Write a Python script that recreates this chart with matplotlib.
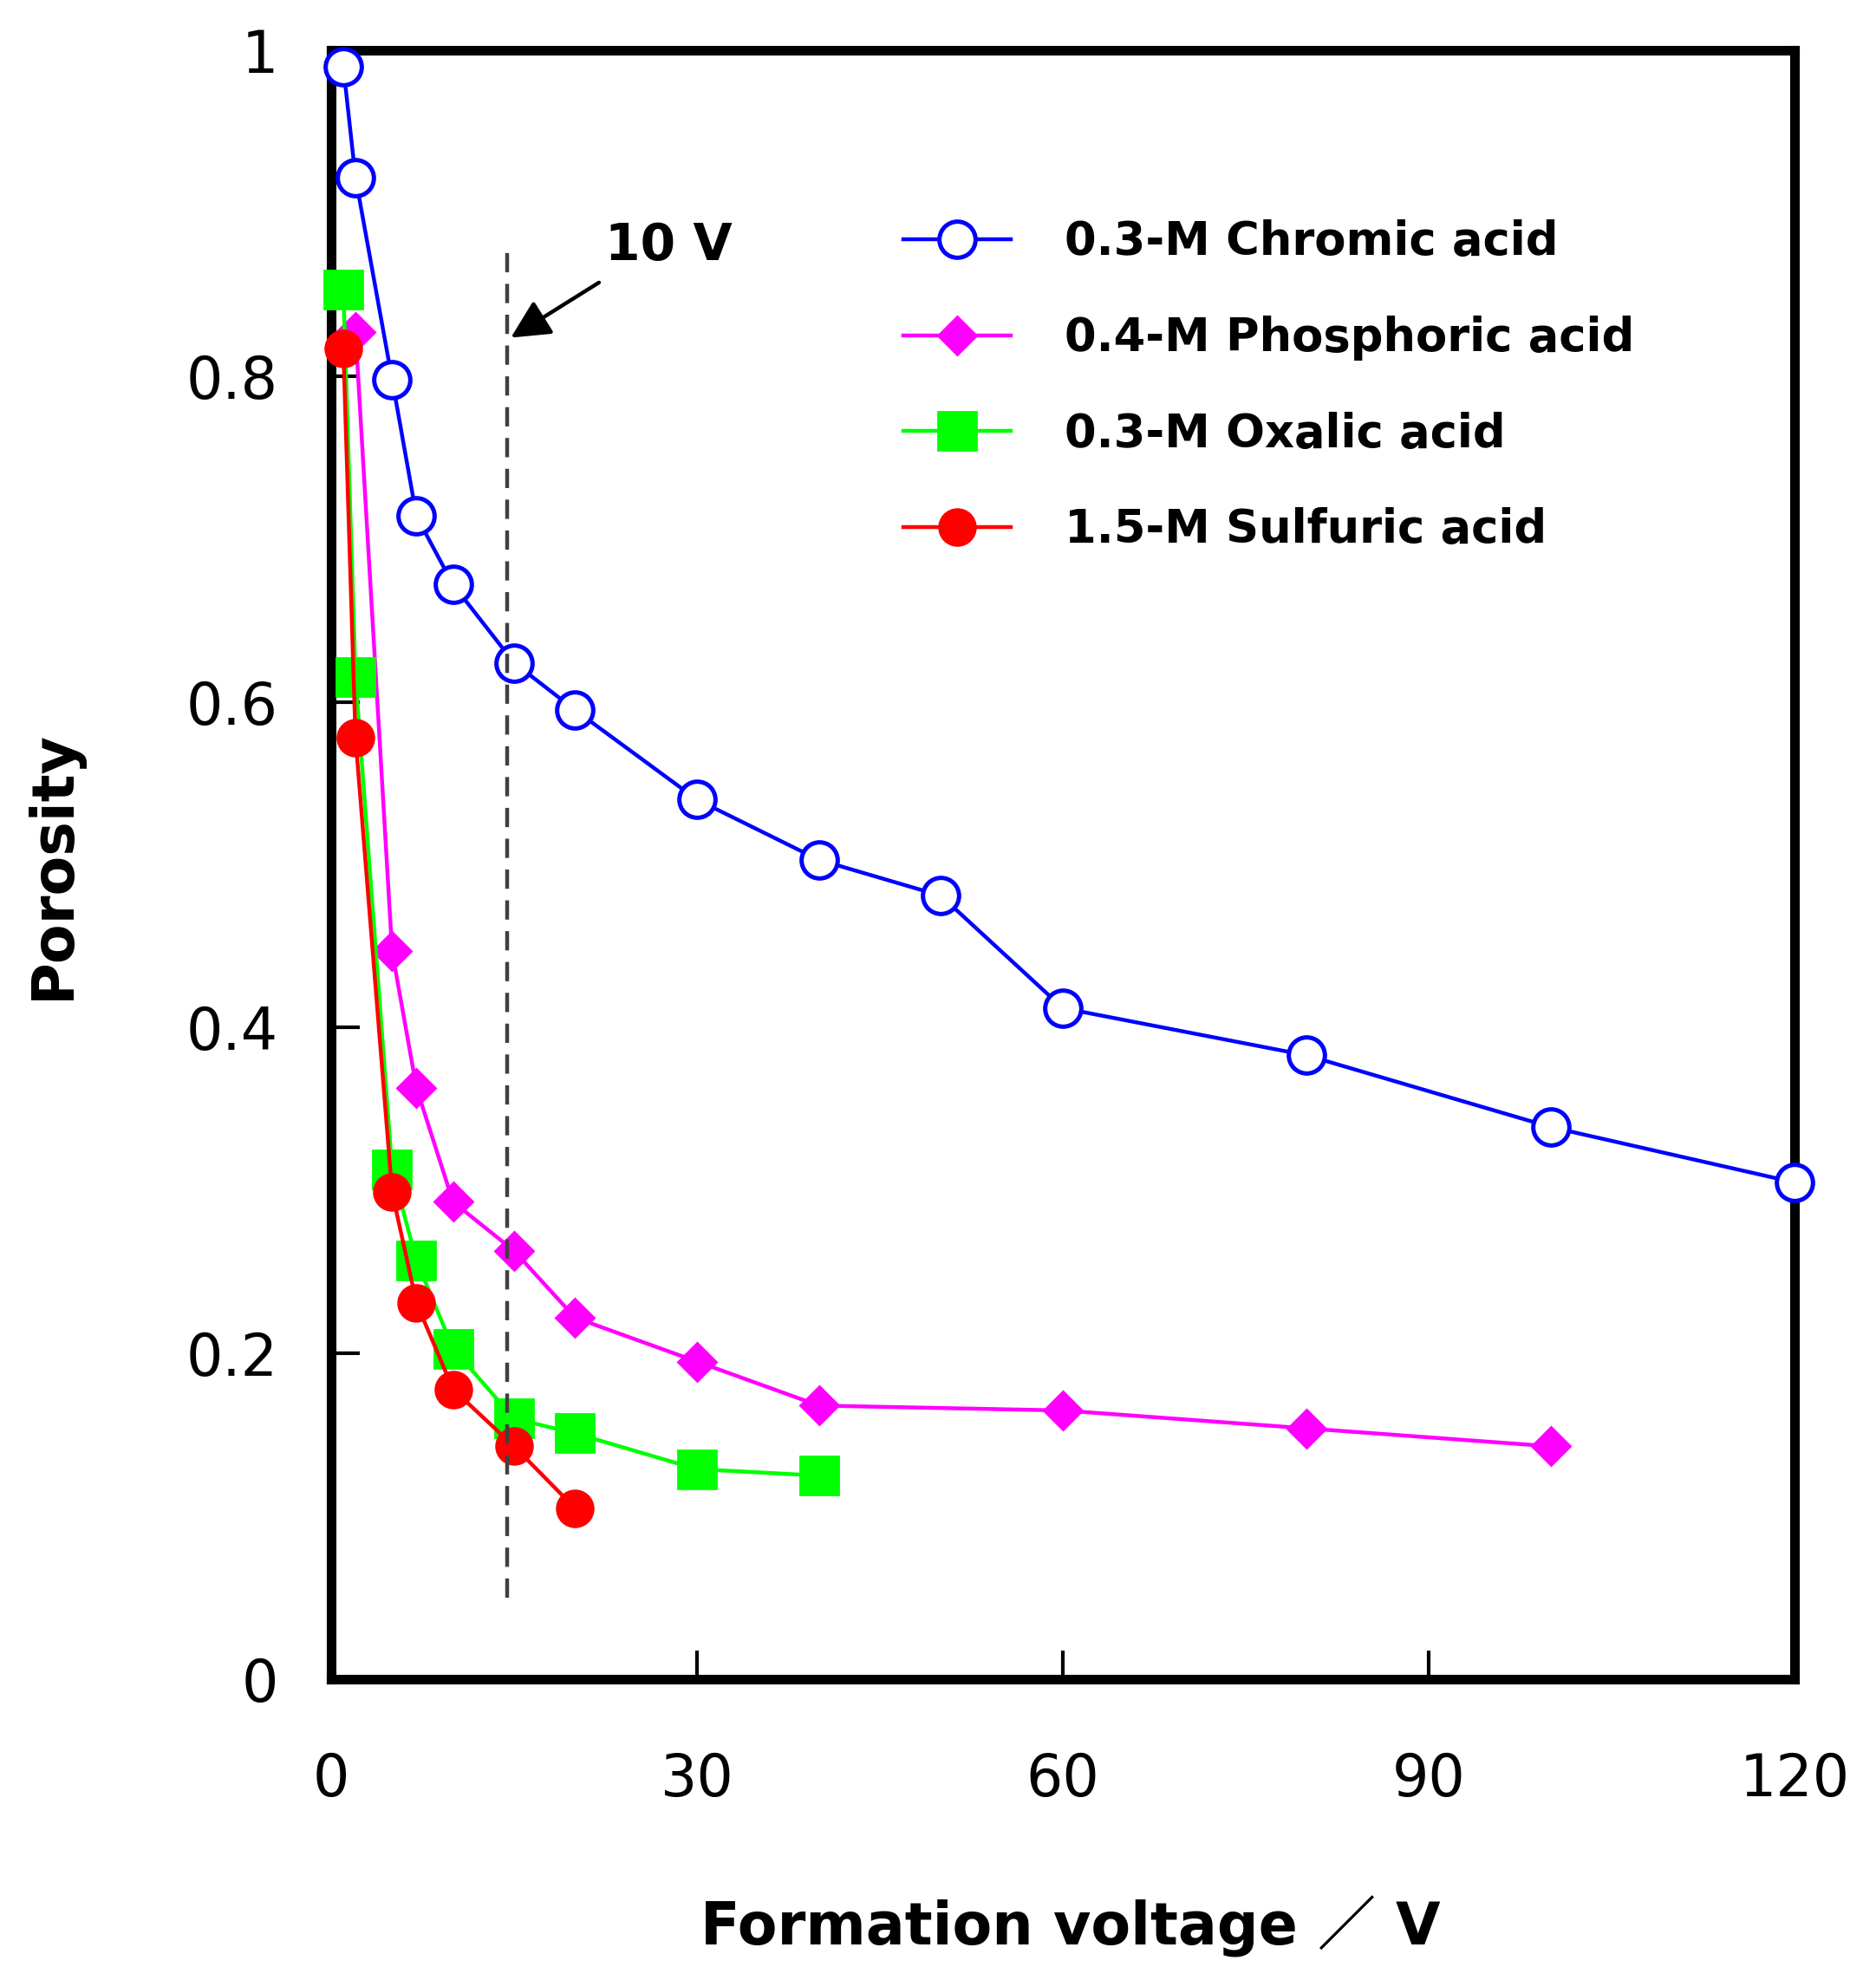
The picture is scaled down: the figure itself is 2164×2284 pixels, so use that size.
import matplotlib
matplotlib.use('Agg')
from matplotlib import pyplot as plt

# data
v_chromic = [1, 2, 5, 7, 10, 15, 20, 30, 40, 50, 60, 80, 100, 120]
p_chromic = [0.99, 0.922, 0.798, 0.714, 0.672, 0.624, 0.595, 0.540, 0.503, 0.481, 0.412, 0.383, 0.339, 0.305]

v_phosphoric = [2, 5, 7, 10, 15, 20, 30, 40, 60, 80, 100]
p_phosphoric = [0.827, 0.447, 0.363, 0.293, 0.263, 0.222, 0.195, 0.168, 0.165, 0.154, 0.143]

v_oxalic = [1, 2, 5, 7, 10, 15, 20, 30, 40]
p_oxalic = [0.853, 0.615, 0.313, 0.257, 0.203, 0.160, 0.151, 0.129, 0.125]

v_sulfuric = [1, 2, 5, 7, 10, 15, 20]
p_sulfuric = [0.817, 0.578, 0.299, 0.231, 0.178, 0.143, 0.105]

labels = ['0.3-M Chromic acid', '0.4-M Phosphoric acid',
          '0.3-M Oxalic acid', '1.5-M Sulfuric acid']

xticks = [0, 30, 60, 90, 120]
yticks = [0, 0.2, 0.4, 0.6, 0.8, 1.0]
ytick_labels = ['0', '0.2', '0.4', '0.6', '0.8', '1']

plt.rcParams['font.family'] = ['DejaVu Sans', 'Noto Sans CJK JP']

fig = plt.figure(figsize=(10.82, 11.42), dpi=200)
ax = fig.add_axes([0.1765, 0.1519, 0.7801, 0.8227])

lw = 1.6
h1, = ax.plot(v_chromic, p_chromic, color='#0000FF', lw=lw, marker='o', ms=15,
              mfc='white', mec='#0000FF', mew=1.8, clip_on=False, zorder=3)
h2, = ax.plot(v_phosphoric, p_phosphoric, color='#FF00FF', lw=lw, marker='D', ms=11,
              mfc='#FF00FF', mec='#FF00FF', clip_on=False, zorder=3)
h3, = ax.plot(v_oxalic, p_oxalic, color='#00FF00', lw=lw, marker='s', ms=16,
              mfc='#00FF00', mec='#00FF00', clip_on=False, zorder=3)
h4, = ax.plot(v_sulfuric, p_sulfuric, color='#FF0000', lw=lw, marker='o', ms=15,
              mfc='#FF0000', mec='#FF0000', clip_on=False, zorder=3)

# 10 V marker line and arrow
ax.plot([14.4, 14.4], [0.05, 0.876], color='0.25', lw=1.6, ls=(0, (5, 3)), zorder=5)
ax.annotate('', xy=(14.4, 0.822), xytext=(22.3, 0.859),
            arrowprops=dict(arrowstyle='-|>', color='k', lw=1.6, mutation_scale=34))
ax.text(22.5, 0.88, '10 V', fontsize=21, fontweight='bold', va='center', ha='left')

ax.set_xlim(0, 120)
ax.set_ylim(0, 1)
ax.set_xticks(xticks)
ax.set_yticks(yticks)
ax.set_yticklabels(ytick_labels)
ax.tick_params(axis='both', direction='in', length=12, width=1.5, labelsize=24)
ax.tick_params(axis='y', pad=22)
ax.tick_params(axis='x', pad=30)
for s in ax.spines.values():
    s.set_linewidth(4)

ax.set_xlabel('Formation voltage ／ V', fontsize=24, fontweight='bold')
ax.set_ylabel('Porosity', fontsize=24, fontweight='bold')
ax.xaxis.set_label_coords(0.505, -0.133)
ax.yaxis.set_label_coords(-0.170, 0.5)

ax.legend([h1, h2, h3, h4], labels, loc='upper left', bbox_to_anchor=(0.391, 0.896),
          frameon=False, prop={'weight': 'bold', 'size': 19},
          handlelength=2.35, handletextpad=1.17, labelspacing=1.11,
          borderpad=0, borderaxespad=0, numpoints=1)

fig.savefig('out.png', dpi=200)
